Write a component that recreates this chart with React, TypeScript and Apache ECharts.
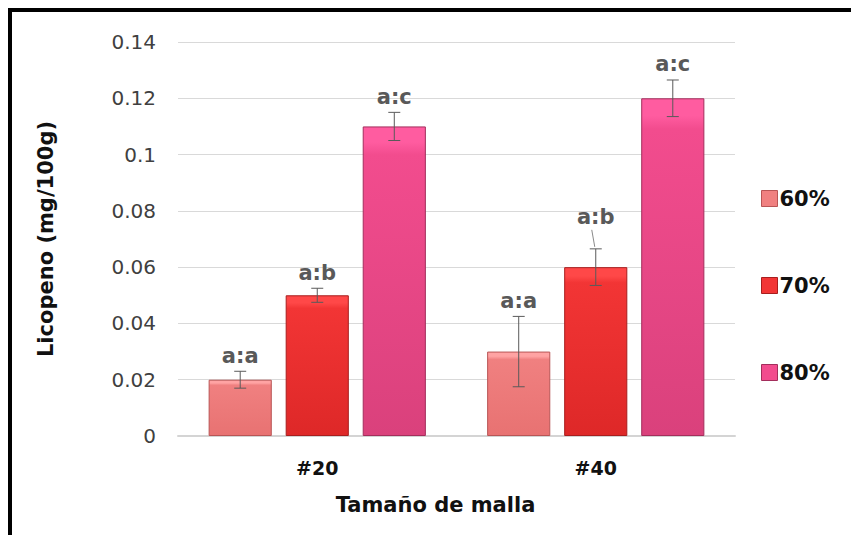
import React, { useEffect, useRef } from "react";
import * as echarts from "echarts";

const categories = ["#20", "#40"];
const seriesNames = ["60%", "70%", "80%"];
const values60 = [0.02, 0.03];
const values70 = [0.05, 0.06];
const values80 = [0.11, 0.12];
const err60 = [0.003, 0.0125];
const err70 = [0.0025, 0.0065];
const err80 = [0.005, 0.0065];
const labels60 = ["a:a", "a:a"];
const labels70 = ["a:b", "a:b"];
const labels80 = ["a:c", "a:c"];
const yTicks = [0, 0.02, 0.04, 0.06, 0.08, 0.1, 0.12, 0.14];

// styling only: extra lift (px) for a label drawn with a leader line
const labelLift = [
  [0, 0],
  [0, 16],
  [0, 0],
];

const FONT = "'DejaVu Sans', sans-serif";

const palettes = [
  { top: "#FFA3A3", bottom: "#E87272", border: "#B85555", icon: "#F08080" },
  { top: "#FF4848", bottom: "#DE2828", border: "#A81E1E", icon: "#F23535" },
  { top: "#FF5CA0", bottom: "#DA417C", border: "#A32E5C", icon: "#F24C8E" },
];

export default function App() {
  const ref = useRef<HTMLDivElement>(null);
  useEffect(() => {
    if (!ref.current) return;
    const chart = echarts.init(ref.current, undefined, { renderer: "svg" });
    const vals = [values60, values70, values80];
    const errs = [err60, err70, err80];
    const labs = [labels60, labels70, labels80];

    const barSeries = seriesNames.map((name, si) => ({
      name,
      type: "bar",
      data: vals[si],
      barGap: "22%",
      barCategoryGap: "22%",
      itemStyle: {
        color: new echarts.graphic.LinearGradient(0, 0, 0, 1, [
          { offset: 0, color: palettes[si].top },
          { offset: 0.05, color: palettes[si].top },
          { offset: 0.09, color: palettes[si].icon },
          { offset: 1, color: palettes[si].bottom },
        ]),
        borderColor: palettes[si].border,
        borderWidth: 1,
      },
      z: 2,
    }));

    const errData: number[][] = [];
    seriesNames.forEach((_, si) => {
      categories.forEach((_, ci) => {
        errData.push([ci, vals[si][ci], errs[si][ci], si]);
      });
    });

    const errSeries = {
      type: "custom",
      name: "err",
      data: errData,
      z: 5,
      silent: true,
      encode: { x: 0, y: 1 },
      renderItem: (params: any, api: any) => {
        const ci = api.value(0);
        const mean = api.value(1);
        const e = api.value(2);
        const si = api.value(3);
        const band = api.size([1, 0])[0];
        const w = (band * 0.78) / (3 + 2 * 0.22);
        const off = (si - 1) * w * 1.22;
        const pHi = api.coord([ci, mean + e]);
        const pLo = api.coord([ci, mean - e]);
        const x = pHi[0] + off;
        const cap = 6;
        const stroke = { stroke: "#5a5a5a", lineWidth: 1 };
        const lift = labelLift[si][ci];
        const children: any[] = [
          { type: "line", shape: { x1: x, y1: pHi[1], x2: x, y2: pLo[1] }, style: stroke },
          { type: "line", shape: { x1: x - cap, y1: pHi[1], x2: x + cap, y2: pHi[1] }, style: stroke },
          { type: "line", shape: { x1: x - cap, y1: pLo[1], x2: x + cap, y2: pLo[1] }, style: stroke },
          {
            type: "text",
            style: {
              text: labs[si][ci],
              x: x,
              y: pHi[1] - 5 - lift,
              align: "center",
              verticalAlign: "bottom",
              fill: "#595959",
              font: `bold 21px ${FONT}`,
            },
          },
        ];
        if (lift > 0) {
          children.push({
            type: "line",
            shape: { x1: x - 4, y1: pHi[1] - 5 - lift + 2, x2: x - 1, y2: pHi[1] - 2 },
            style: { stroke: "#8a8a8a", lineWidth: 1 },
          });
        }
        return { type: "group", children };
      },
    };

    chart.setOption({
      animation: false,
      backgroundColor: "#ffffff",
      textStyle: { fontFamily: FONT },
      grid: { left: 178, right: 116, top: 42, bottom: 99 },
      legend: {
        orient: "vertical",
        left: 756,
        top: 183,
        itemWidth: 16,
        itemHeight: 16,
        itemGap: 66,
        icon: "rect",
        data: seriesNames.map((n, i) => ({
          name: n,
          itemStyle: { color: palettes[i].icon, borderColor: palettes[i].border, borderWidth: 1 },
        })),
        textStyle: { fontFamily: FONT, fontSize: 21, fontWeight: "bold", color: "#111111", padding: [0, 0, 0, -3] },
      },
      xAxis: {
        type: "category",
        data: categories,
        axisTick: { show: false },
        axisLine: { lineStyle: { color: "#d4d4d4", width: 2 } },
        axisLabel: { margin: 22, fontSize: 19, fontWeight: "bold", color: "#111111", fontFamily: FONT },
        name: "Tamaño de malla",
        nameLocation: "middle",
        nameGap: 58,
        nameTextStyle: { fontSize: 21, fontWeight: "bold", color: "#111111", fontFamily: FONT, padding: [0, 42, 0, 0] },
      },
      yAxis: {
        type: "value",
        min: yTicks[0],
        max: yTicks[yTicks.length - 1],
        interval: 0.02,
        axisLine: { show: false },
        axisTick: { show: false },
        splitLine: { lineStyle: { color: "#d9d9d9", width: 1 } },
        axisLabel: {
          margin: 22,
          fontSize: 20,
          color: "#404040",
          fontFamily: FONT,
          formatter: (v: number) => String(parseFloat(v.toFixed(2))),
        },
        name: "Licopeno (mg/100g)",
        nameLocation: "middle",
        nameGap: 122,
        nameTextStyle: { fontSize: 21, fontWeight: "bold", color: "#111111", fontFamily: FONT },
      },
      series: [...barSeries, errSeries],
      graphic: [
        { type: "line", shape: { x1: 8, y1: 10, x2: 851, y2: 10 }, style: { stroke: "#000", lineWidth: 4 }, z: 100 },
        { type: "line", shape: { x1: 10, y1: 8, x2: 10, y2: 535 }, style: { stroke: "#000", lineWidth: 4 }, z: 100 },
      ],
    });
    return () => chart.dispose();
  }, []);
  return (
    <div
      ref={ref}
      style={{ position: "fixed", left: 0, top: 0, width: 851, height: 535 }}
    />
  );
}
